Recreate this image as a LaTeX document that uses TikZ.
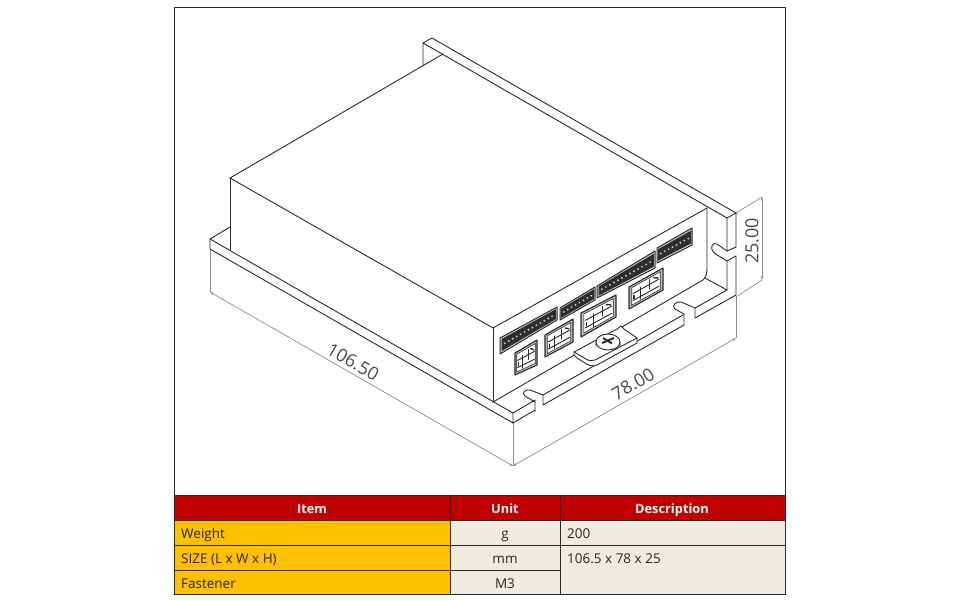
\documentclass[tikz,border=0pt]{standalone}
\usepackage{fontspec}
\setmainfont{Open Sans}
\usetikzlibrary{arrows.meta,calc}
\definecolor{hdr}{HTML}{C00000}
\definecolor{org}{HTML}{FFC000}
\definecolor{bei}{HTML}{EEECE1}
\definecolor{ink}{HTML}{2A2A2A}
\definecolor{dimc}{HTML}{8C8C8C}
\definecolor{dimt}{HTML}{4A4A4A}
\tikzset{
  edge/.style={draw=ink,line width=0.9pt,line join=round,line cap=round},
  fine/.style={draw=ink,line width=0.6pt},
  dimline/.style={draw=dimc,line width=0.7pt},
  dimtext/.style={text=dimt,font=\fontsize{18}{18}\selectfont,inner sep=0pt},
  cellb/.style={draw=ink,line width=0.8pt},
  hcell/.style={text=white,font=\fontsize{12.8}{14}\selectfont\bfseries,inner sep=0pt,anchor=base},
  lcell/.style={text=black!85,font=\fontsize{13.5}{14}\selectfont,inner sep=0pt,anchor=base west},
  ccell/.style={text=black!85,font=\fontsize{13.5}{14}\selectfont,inner sep=0pt,anchor=base}
}
% bilinear point in the quad a b c d: u along a-b, v along a-d
\newcommand{\quadpt}[6]{($($#1!#5!#2$)!#6!($#4!#5!#3$)$)}
% long pin header
\newcommand{\pinhdr}[5]{%
  \draw[edge,line width=1pt,fill=black!18] #1 -- #2 -- #3 -- #4 -- cycle;
  \fill[black!82] \quadpt{#1}{#2}{#3}{#4}{0.03}{0.12} -- \quadpt{#1}{#2}{#3}{#4}{0.98}{0.12} -- \quadpt{#1}{#2}{#3}{#4}{0.98}{0.88} -- \quadpt{#1}{#2}{#3}{#4}{0.03}{0.88} -- cycle;
  \foreach \k in {1,...,#5}{
    \pgfmathsetmacro{\myu}{0.05+0.9*(\k-0.5)/#5}
    \fill[black!22] \quadpt{#1}{#2}{#3}{#4}{\myu}{0.5} circle (1.05pt);
  }
}
% plug connector
\newcommand{\plug}[4]{%
  \draw[edge,line width=1.1pt,fill=black!25] #1 -- #2 -- #3 -- #4 -- cycle;
  \draw[fine,fill=white] \quadpt{#1}{#2}{#3}{#4}{0.08}{0.1} -- \quadpt{#1}{#2}{#3}{#4}{0.92}{0.1} -- \quadpt{#1}{#2}{#3}{#4}{0.92}{0.9} -- \quadpt{#1}{#2}{#3}{#4}{0.08}{0.9} -- cycle;
  \draw[edge] \quadpt{#1}{#2}{#3}{#4}{0.12}{0.4} -- \quadpt{#1}{#2}{#3}{#4}{0.88}{0.4};
  \draw[edge] \quadpt{#1}{#2}{#3}{#4}{0.12}{0.72} -- \quadpt{#1}{#2}{#3}{#4}{0.88}{0.72};
  \draw[edge] \quadpt{#1}{#2}{#3}{#4}{0.35}{0.3} -- \quadpt{#1}{#2}{#3}{#4}{0.35}{0.85};
  \draw[edge] \quadpt{#1}{#2}{#3}{#4}{0.6}{0.18} -- \quadpt{#1}{#2}{#3}{#4}{0.6}{0.6};
  \draw[edge,line width=1.4pt] \quadpt{#1}{#2}{#3}{#4}{0.72}{0.2} -- \quadpt{#1}{#2}{#3}{#4}{0.85}{0.32};
  \draw[edge,line width=1.4pt] \quadpt{#1}{#2}{#3}{#4}{0.15}{0.52} -- \quadpt{#1}{#2}{#3}{#4}{0.15}{0.66};
}
\begin{document}
\begin{tikzpicture}[x=1pt,y=-1pt]
\useasboundingbox (0,0) rectangle (960,600);
\fill[white] (0,0) rectangle (960,600);

% dimension lines
\draw[dimline] (210,249) -- (210,292);
\draw[dimline] (513,423) -- (513,466);
\draw[dimline] (736,297) -- (736,338);
\draw[dimline,{Stealth[length=4pt,width=2.5pt]}-{Stealth[length=4pt,width=2.5pt]}] (210,292) -- (513,466);
\draw[dimline,{Stealth[length=4pt,width=2.5pt]}-{Stealth[length=4pt,width=2.5pt]}] (513,466) -- (736,338);
\draw[dimline] (736,213) -- (762,197);
\draw[dimline] (736,297) -- (762,280);
\draw[dimline,{Stealth[length=4pt,width=2.5pt]}-{Stealth[length=4pt,width=2.5pt]}] (762,197) -- (762,280);
\node[dimtext,rotate=-30] (d1) at (353,362) {106.50};
\node[dimtext,rotate=30] (d2) at (633,384) {78.00};
\node[dimtext,rotate=90] (d3) at (752,241) {25.00};

% box
\draw[edge] (230,178) -- (443,54);
\draw[edge] (230,178) -- (493,328) -- (707,208);
\draw[edge] (230,178) -- (230,250);
\draw[edge] (493,328) -- (493,402);
\draw[edge] (707,208) -- (707,268) .. controls (707,274) and (706,277) .. (703,280) -- (622,327);
\draw[edge] (576,354) -- (493,402);
% back flange
\draw[edge] (423,66) -- (423,43) -- (432,38) -- (736,213);
\draw[edge] (423,43) -- (727,218) -- (736,213);
% left plate
\draw[edge] (230,227) -- (210,239) -- (210,249) -- (513,423) -- (513,413) -- (210,239);
% front plate
\draw[edge] (513,413) -- (535,400) -- (535,412);
\draw[edge] (513,423) -- (535,410);
\draw[edge] (535,402) -- (525,396) .. controls (521,393) and (525,389) .. (530,390) -- (543,395) -- (543,405) -- (684,325) -- (684,314);
\draw[edge] (543,395) -- (683,315);
\draw[edge] (684,314) -- (675,309) .. controls (671,306) and (676,301) .. (681,302) -- (695,308) -- (695,318) -- (736,295) -- (736,256);
\draw[edge] (695,308) -- (727,290) -- (705,278);
\draw[edge] (727,290) -- (727,261) -- (736,256);
\draw[edge] (727,218) -- (727,251) -- (717,244) .. controls (711,242) and (710,249) .. (714,253) -- (727,261);
\draw[edge] (727,251) -- (736,247) -- (736,213);

% connectors
\pinhdr{(500,338)}{(557,307)}{(557,320)}{(500,354)}{13}
\pinhdr{(560,308)}{(595,287)}{(595,300)}{(560,320)}{8}
\pinhdr{(597,286)}{(655,251)}{(655,268)}{(597,298)}{13}
\pinhdr{(657,248)}{(692,228)}{(692,245)}{(657,263)}{8}
\plug{(515,353)}{(537,340)}{(537,365)}{(515,375)}
\plug{(545,335)}{(573,319)}{(573,342)}{(545,357)}
\plug{(581,313)}{(616,295)}{(616,317)}{(581,337)}
\plug{(629,287)}{(663,268)}{(663,290)}{(629,309)}

% clip and screw
\draw[edge,fill=white] (574,352) -- (617,329) -- (621,326) -- (624,329) -- (637,338) -- (637,343) -- (597,365) .. controls (592,367) and (588,365) .. (585,363) -- (577,358) -- (574,355) -- cycle;
\draw[edge] (574,352) -- (586,359) .. controls (589,361) and (592,361) .. (595,360) -- (637,338);
\draw[edge,fill=white] (596,342) -- (596,346) arc[start angle=180,end angle=360,x radius=12,y radius=8] -- (620,342);
\draw[edge,fill=white] (608,342) ellipse[x radius=12,y radius=8];
\draw[line width=1.9pt,draw=ink] (602,343) -- (614,338);
\draw[line width=1.9pt,draw=ink] (603,338) -- (612,343.5);

% frame
\draw[draw=black!85,line width=0.9pt] (174,7) rectangle (785,594);

% table
\fill[hdr] (174,495) rectangle (785,520);
\fill[org] (174,520) rectangle (450,594);
\fill[bei] (450,520) rectangle (785,594);
\draw[cellb] (174,495) rectangle (785,594);
\draw[cellb] (174,520) -- (785,520);
\draw[cellb] (174,545) -- (785,545);
\draw[cellb] (174,570) -- (560,570);
\draw[cellb] (450,495) -- (450,594);
\draw[cellb] (560,495) -- (560,594);
\node[hcell] (h1) at (312,513) {Item};
\node[hcell] (h2) at (505,513) {Unit};
\node[hcell] (h3) at (672,513) {Description};
\node[lcell] (a1) at (181,538) {Weight};
\node[lcell] (a2) at (181,563) {SIZE (L x W x H)};
\node[lcell] (a3) at (181,588) {Fastener};
\node[ccell] (b1) at (505,538) {g};
\node[ccell] (b2) at (505,563) {mm};
\node[ccell] (b3) at (505,588) {M3};
\node[lcell] (c1) at (567,538) {200};
\node[lcell] (c2) at (567,563) {106.5 x 78 x 25};
\end{tikzpicture}
\end{document}
